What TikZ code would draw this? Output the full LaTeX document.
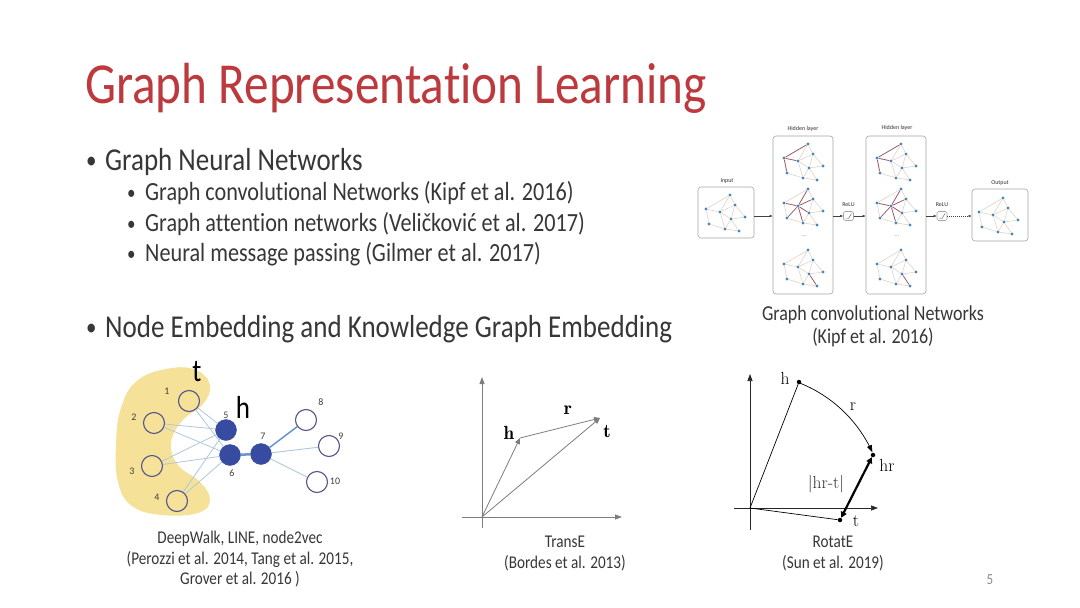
\documentclass[tikz,border=0pt]{standalone}
\usepackage{fontspec}
\setmainfont{Carlito}[Ligatures={NoCommon,NoContextual}]
\usepackage{graphicx}
\usetikzlibrary{arrows.meta}
\definecolor{titlered}{RGB}{188,58,62}
\definecolor{bodytxt}{RGB}{55,55,55}
\definecolor{dotblue}{RGB}{70,135,185}
\definecolor{gline}{RGB}{222,205,190}
\definecolor{hline}{RGB}{150,85,100}
\definecolor{boxgray}{RGB}{165,165,165}
\definecolor{blobyellow}{RGB}{246,225,152}
\definecolor{nodeblue}{RGB}{55,75,160}
\definecolor{ringblue}{RGB}{85,85,140}
\definecolor{edgelight}{RGB}{175,200,220}
\definecolor{edgemid}{RGB}{105,150,200}
\definecolor{axisgray}{RGB}{125,125,125}
\newcommand\vs[1]{\scalebox{1}[1.18]{#1}}
\newcommand\lmfont{\fontfamily{lmr}\selectfont}
\tikzset{
  txt/.style={inner sep=0pt, text=bodytxt},
  gdot/.style={circle, fill=dotblue, inner sep=0pt, minimum size=3.2pt},
  gedge/.style={draw=gline, line width=0.5pt},
  hedge/.style={draw=hline, line width=0.7pt},
  gbox/.style={draw=boxgray, rounded corners=3pt, line width=0.6pt, fill=white, inner sep=0pt},
  glabel/.style={inner sep=0pt, text=black!80, font=\fontsize{6}{7}\selectfont},
  garrow/.style={draw=black!75, line width=0.5pt, -{Latex[length=3pt,width=2.5pt]}},
  ringnode/.style={circle, draw=ringblue, line width=1.1pt, minimum size=21pt, inner sep=0pt},
  fillnode/.style={circle, draw=nodeblue, fill=nodeblue, minimum size=21pt, inner sep=0pt},
  numlabel/.style={inner sep=0pt, text=black!75, font=\fontsize{10}{12}\selectfont},
  axis/.style={draw=axisgray, line width=0.8pt, -{Triangle[length=7pt,width=5pt]}},
  vec/.style={draw=axisgray, line width=0.8pt, -{Triangle[length=6pt,width=5pt]}},
  raxis/.style={draw=black!85, line width=0.7pt, -{Triangle[length=7pt,width=5pt]}},
  rdot/.style={circle, fill=black, inner sep=0pt, minimum size=4.5pt},
  rlabel/.style={inner sep=0pt, font=\fontsize{17.5}{20}\selectfont\lmfont},
  bigbul/.style={txt, anchor=base west, font=\fontsize{21}{24}\selectfont},
  smallbul/.style={txt, anchor=base west, font=\fontsize{17}{20}\selectfont},
  bigtxt/.style={txt, anchor=base west, font=\fontsize{27}{32}\selectfont},
  smalltxt/.style={txt, anchor=base west, font=\fontsize{22.2}{26}\selectfont},
  capbig/.style={txt, anchor=base, font=\fontsize{18}{21}\selectfont},
  capsmall/.style={txt, anchor=base, font=\fontsize{15.2}{18}\selectfont},
  minigraph/.pic={
    \node[gdot] (-a) at (4,-18) {};
    \node[gdot] (-b) at (-20,-4) {};
    \node[gdot] (-c) at (-6,-1) {};
    \node[gdot] (-d) at (9,-8) {};
    \node[gdot] (-e) at (5,6) {};
    \node[gdot] (-f) at (19,4) {};
    \node[gdot] (-g) at (-17,11) {};
    \node[gdot] (-h) at (-1,16) {};
    \node[gdot] (-i) at (13,18) {};
    \foreach \u/\v in {a/b,a/c,a/d,b/c,b/g,c/d,c/e,c/h,d/e,d/f,e/f,e/h,e/i,g/h,h/i}
      \draw[gedge] (-\u) -- (-\v);
  }
}
\begin{document}
\begin{tikzpicture}[x=1pt,y=-1pt]
\useasboundingbox (0,0) rectangle (1080,608);
\fill[white] (0,0) rectangle (1080,608);

% ---------- title and bullets ----------
\node[anchor=base west, inner sep=0pt, text=titlered, font=\fontsize{49.2}{58}\selectfont] (title) at (85,103) {\vs{Graph Representation Learning}};

\node[bigbul] (b1dot) at (86,168) {\vs{•}};
\node[bigtxt] (b1) at (105,170) {\vs{Graph Neural Networks}};
\node[smallbul] (s1dot) at (127,199) {\vs{•}};
\node[smalltxt] (s1) at (145,200) {\vs{Graph convolutional Networks (Kipf et al. 2016)}};
\node[smallbul] (s2dot) at (127,230) {\vs{•}};
\node[smalltxt] (s2) at (145,231) {\vs{Graph attention networks (Veličković et al. 2017)}};
\node[smallbul] (s3dot) at (127,260) {\vs{•}};
\node[smalltxt] (s3) at (145,261) {\vs{Neural message passing (Gilmer et al. 2017)}};
\node[bigbul] (b2dot) at (86,335) {\vs{•}};
\node[bigtxt] (b2) at (105,337) {\vs{Node Embedding and Knowledge Graph Embedding}};

% ---------- GCN figure ----------
\node[gbox, minimum width=56pt, minimum height=51pt] (inbox) at (726,212.5) {};
\node[gbox, minimum width=60pt, minimum height=158pt] (hid1) at (803,215) {};
\node[gbox, minimum width=60pt, minimum height=158pt] (hid2) at (896,215) {};
\node[gbox, minimum width=56pt, minimum height=52pt] (outbox) at (1000,215) {};
\node[gbox, rounded corners=1.5pt, minimum width=10pt, minimum height=9pt] (relu1) at (848.5,216) {};
\node[gbox, rounded corners=1.5pt, minimum width=10pt, minimum height=9pt] (relu2) at (942,216) {};
\draw[black!70, line width=0.4pt] (845.5,218.5) -- (848.5,218.5) -- (851.5,213.5);
\draw[black!70, line width=0.4pt] (939,218.5) -- (942,218.5) -- (945,213.5);

\node[glabel] (inlab) at (727,181) {Input};
\node[glabel] (h1lab) at (803,129) {Hidden layer};
\node[glabel] (h2lab) at (897,128) {Hidden layer};
\node[glabel] (r1lab) at (848.5,205) {ReLU};
\node[glabel] (r2lab) at (942,205) {ReLU};
\node[glabel] (outlab) at (1000,183) {Output};

\draw[garrow] (inbox.east |- relu1) -- (hid1.west |- relu1);
\draw[garrow] (hid1.east |- relu1) -- (relu1.west);
\draw[garrow] (relu1.east) -- (hid2.west |- relu1);
\draw[garrow] (hid2.east |- relu2) -- (relu2.west);
\draw[garrow, dash pattern=on 1pt off 1pt] (relu2.east) -- (outbox.west |- relu2);

\pic (gin) at (726,213) {minigraph};
\pic (g1a) at (804,162) {minigraph};
\pic (g1b) at (804,207) {minigraph};
\pic (g1c) at (804,268) {minigraph};
\pic (g2a) at (897,162) {minigraph};
\pic (g2b) at (897,207) {minigraph};
\pic (g2c) at (897,268) {minigraph};
\pic (gout) at (999,216) {minigraph};
\node[glabel, text=black!50] (dots1) at (804,236) {...};
\node[glabel, text=black!50] (dots2) at (897,236) {...};

\foreach \p in {g1a,g2a} {
  \draw[hedge] (\p-b) -- (\p-a);
  \draw[hedge] (\p-b) -- (\p-c);
  \draw[hedge] (\p-b) -- (\p-g);
}
\foreach \p in {g1b,g2b} {
  \draw[hedge] (\p-c) -- (\p-a);
  \draw[hedge] (\p-c) -- (\p-b);
  \draw[hedge] (\p-c) -- (\p-d);
  \draw[hedge] (\p-c) -- (\p-e);
  \draw[hedge] (\p-c) -- (\p-h);
  \draw[hedge] (\p-c) -- (\p-g);
}
\foreach \p in {g1c,g2c} {
  \draw[hedge] (\p-e) -- (\p-i);
}

\node[capbig] (gcncap1) at (873,320) {\vs{Graph convolutional Networks}};
\node[capbig] (gcncap2) at (873,343) {\vs{(Kipf et al. 2016)}};

% ---------- DeepWalk figure ----------
\fill[blobyellow] plot[smooth cycle, tension=0.7] coordinates {
  (172,368) (198,371) (210,386) (203,404) (182,421) (171,443) (178,465)
  (200,482) (210,500) (198,513) (162,515) (132,506) (118,482) (116,445)
  (121,408) (138,380)};

\node[ringnode] (n1) at (189,401) {};
\node[ringnode] (n2) at (154,423) {};
\node[ringnode] (n3) at (152,466) {};
\node[ringnode] (n4) at (177,501) {};
\node[fillnode] (n5) at (226,430) {};
\node[fillnode] (n6) at (230,455) {};
\node[fillnode] (n7) at (261,454) {};
\node[ringnode, fill=white] (n8) at (306,420) {};
\node[ringnode, fill=white] (n9) at (329,446) {};
\node[ringnode, fill=white] (n10) at (317,482) {};

\foreach \s in {n1,n2,n3,n4} {
  \draw[edgelight, line width=0.8pt] (\s) -- (n5);
  \draw[edgelight, line width=0.8pt] (\s) -- (n6);
}
\draw[edgemid, line width=2.5pt] (n6) -- (n7);
\draw[edgemid, line width=1.5pt] (n7) -- (n8);
\draw[edgelight, line width=0.9pt] (n7) -- (n9);
\draw[edgelight, line width=0.9pt] (n7) -- (n10);

\node[numlabel] (l1) at (167,391) {1};
\node[numlabel] (l2) at (134,417) {2};
\node[numlabel] (l3) at (132,471) {3};
\node[numlabel] (l4) at (157,497) {4};
\node[numlabel] (l5) at (226,415) {5};
\node[numlabel] (l6) at (232,473) {6};
\node[numlabel] (l7) at (263,436) {7};
\node[numlabel] (l8) at (321,402) {8};
\node[numlabel] (l9) at (341,436) {9};
\node[numlabel] (l10) at (335,481) {10};
\node[inner sep=0pt, font=\fontsize{27}{30}\selectfont] (tlab) at (197,372) {\vs{t}};
\node[inner sep=0pt, font=\fontsize{27}{30}\selectfont] (hlab) at (243,407) {\vs{h}};

\node[capsmall] (dwcap1) at (240,543) {\vs{DeepWalk, LINE, node2vec}};
\node[capsmall] (dwcap2) at (240,564) {\vs{(Perozzi et al. 2014, Tang et al. 2015,}};
\node[capsmall] (dwcap3) at (240,584) {\vs{Grover et al. 2016 )}};

% ---------- TransE ----------
\coordinate (tO) at (482,517);
\coordinate (tYb) at (482,528);
\coordinate (tYt) at (482,377);
\coordinate (tXl) at (462,517);
\coordinate (tXr) at (622,517);
\coordinate (th) at (520,438);
\coordinate (tt) at (600,418);
\draw[axis] (tYb) -- (tYt);
\draw[axis] (tXl) -- (tXr);
\draw[vec] (tO) -- (th);
\draw[vec] (th) -- (tt);
\draw[vec] (tO) -- (tt);
\node[inner sep=0pt, font=\fontsize{19}{22}\selectfont\lmfont\bfseries] (teh) at (509,433) {h};
\node[inner sep=0pt, font=\fontsize{19}{22}\selectfont\lmfont\bfseries] (ter) at (568,410) {r};
\node[inner sep=0pt, font=\fontsize{19}{22}\selectfont\lmfont\bfseries] (tet) at (607,432) {t};
\node[capsmall] (tecap1) at (565,547) {\vs{TransE}};
\node[capsmall] (tecap2) at (565,568) {\vs{(Bordes et al. 2013)}};

% ---------- RotatE ----------
\coordinate (rO) at (750,508);
\coordinate (rYb) at (750,530);
\coordinate (rYt) at (750,374);
\coordinate (rXl) at (734,508);
\coordinate (rXr) at (878,508);
\draw[raxis] (rYb) -- (rYt);
\draw[raxis] (rXl) -- (rXr);
\node[rdot] (rh) at (799,382) {};
\node[rdot] (rhr) at (873,455) {};
\node[rdot] (rt) at (840,520) {};
\draw[black, line width=0.7pt] (rO) -- (rh);
\draw[black, line width=0.7pt] (rO) -- (rt);
\draw[black, line width=0.7pt, -{Triangle[length=7pt,width=5pt]}] plot[domain=68.8:24.5, samples=40] ({750+134.5*cos(\x)},{508-134.5*sin(\x)});
\draw[black, line width=2.2pt, {Triangle[length=6pt,width=6pt]}-{Triangle[length=6pt,width=6pt]}] (rt) -- (rhr);
\node[rlabel] (rhl) at (785,378) {h};
\node[rlabel] (rrl) at (853,407) {r};
\node[rlabel] (rhrl) at (887,465) {hr};
\node[rlabel, text=black!80] (rdl) at (826,484) {|hr-t|};
\node[rlabel] (rtl) at (856,521) {t};
\node[capsmall] (rocap1) at (833,547) {\vs{RotatE}};
\node[capsmall] (rocap2) at (833,568) {\vs{(Sun et al. 2019)}};

% ---------- page number ----------
\node[inner sep=0pt, text=black!45, font=\fontsize{13}{15}\selectfont, anchor=base] (pnum) at (990,584) {\vs{5}};
\end{tikzpicture}
\end{document}
